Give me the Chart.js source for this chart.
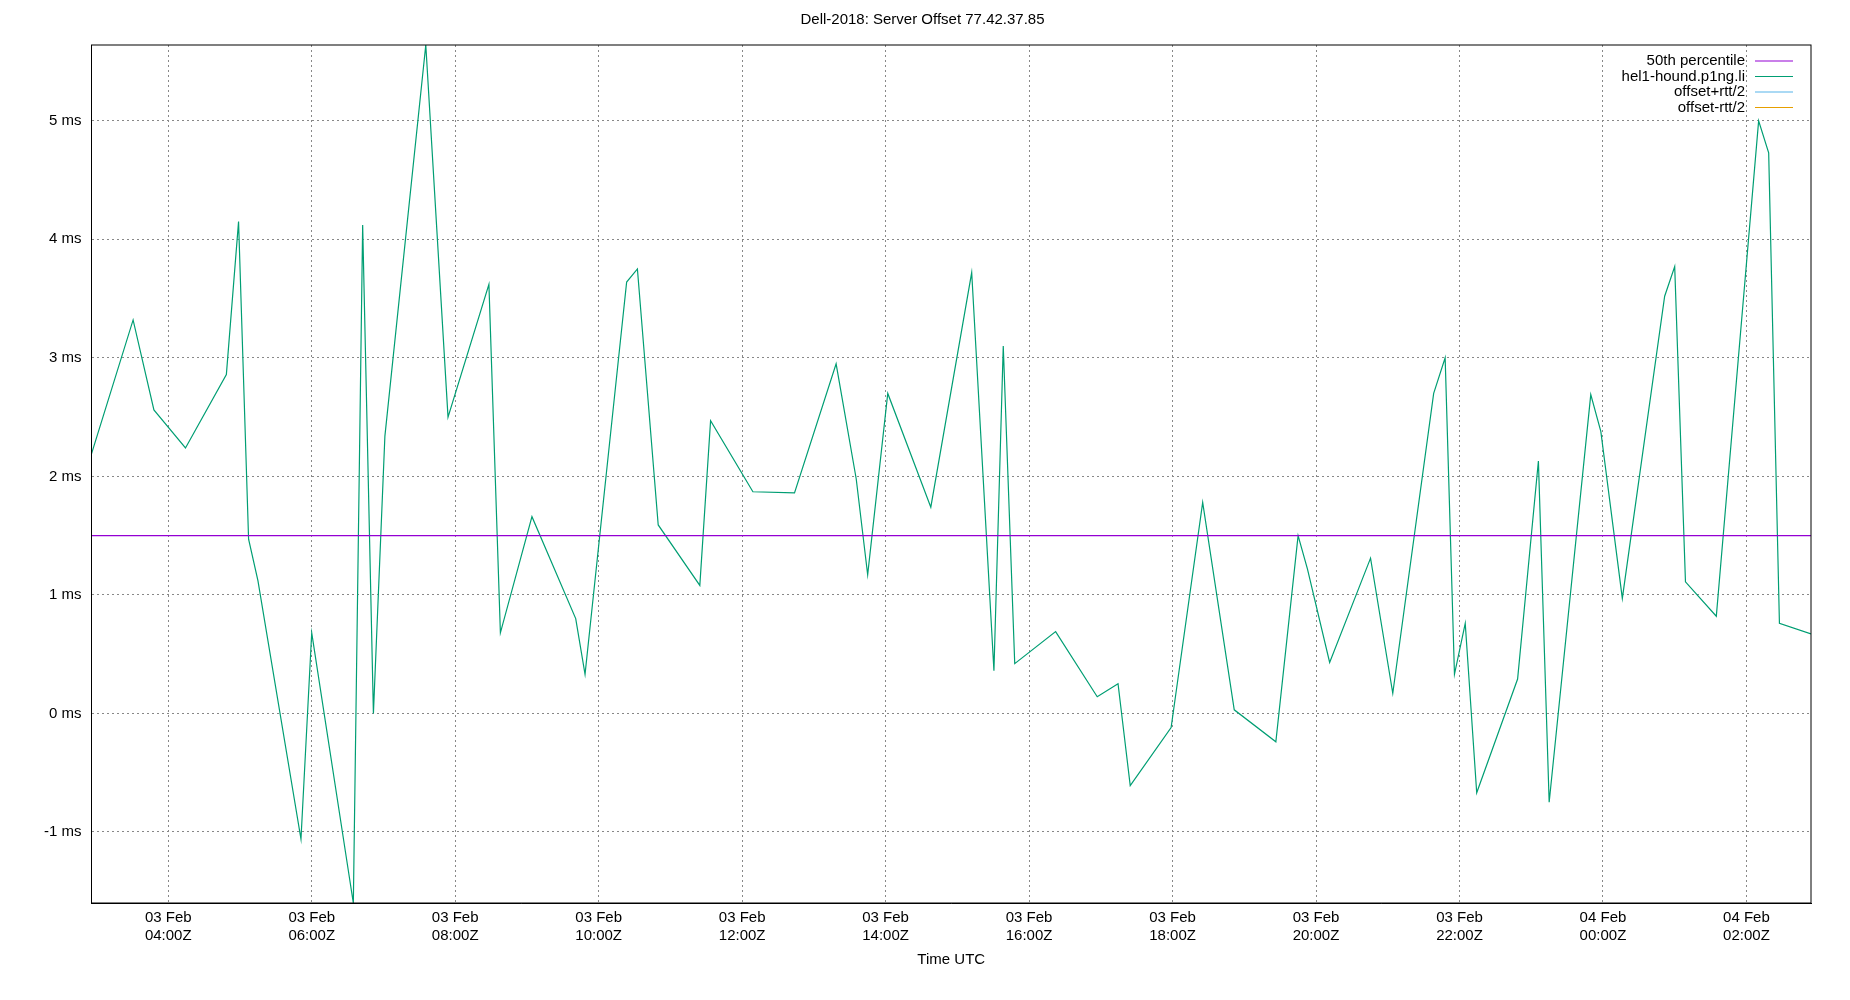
<!DOCTYPE html>
<html><head><meta charset="utf-8">
<script src="https://cdn.jsdelivr.net/npm/chart.js@4"></script>
<style>html,body{margin:0;background:#fff}#w{width:1850px;height:1000px}</style>
</head><body><div id="w"><canvas id="c"></canvas></div>
<script>
const hours=[2.93,3.51,3.80,4.24,4.81,4.98,5.12,5.25,5.85,6.0,6.58,6.71,6.86,7.02,7.59,7.90,8.47,8.63,9.07,9.68,9.81,10.39,10.54,10.83,11.41,11.56,12.15,12.73,13.31,13.59,13.75,14.03,14.63,15.20,15.51,15.64,15.80,16.37,16.95,17.24,17.41,17.98,18.42,18.86,19.44,19.75,19.88,20.19,20.76,21.07,21.64,21.80,21.93,22.08,22.24,22.81,23.10,23.25,23.83,23.97,24.27,24.86,25.00,25.15,25.58,26.17,26.31,26.46,26.90];
const offsets=[2.19,3.32,2.56,2.24,2.86,4.15,1.47,1.12,-1.06,0.68,-1.60,4.12,0,2.34,5.64,2.50,3.62,0.68,1.66,0.80,0.33,3.64,3.75,1.59,1.08,2.47,1.87,1.86,2.95,1.98,1.17,2.70,1.74,3.72,0.36,3.10,0.42,0.69,0.14,0.25,-0.61,-0.12,1.78,0.03,-0.24,1.50,1.22,0.43,1.31,0.17,2.70,3.00,0.33,0.76,-0.67,0.29,2.13,-0.75,2.69,2.38,0.97,3.52,3.77,1.11,0.82,5.00,4.73,0.76,0.67];
const p50=1.50;
const xTickHours=[4,6,8,10,12,14,16,18,20,22,24,26];
const xTickLabels=[["03 Feb","04:00Z"],["03 Feb","06:00Z"],["03 Feb","08:00Z"],["03 Feb","10:00Z"],["03 Feb","12:00Z"],["03 Feb","14:00Z"],["03 Feb","16:00Z"],["03 Feb","18:00Z"],["03 Feb","20:00Z"],["03 Feb","22:00Z"],["04 Feb","00:00Z"],["04 Feb","02:00Z"]];
const xMin=2.93,xMax=26.90,yMin=-1.6,yMax=5.64;
const font={family:'"Liberation Sans", Arial, sans-serif',size:15,weight:'normal'};
const legendPlugin={id:'lg',afterDraw(ch){const c=ch.ctx,a=ch.chartArea;c.save();c.font='15px "Liberation Sans", Arial, sans-serif';c.textAlign='right';c.textBaseline='middle';
ch.data.datasets.forEach((d,i)=>{const y=a.top+16+i*15.5;c.fillStyle='#000';c.fillText(d.label,a.right-66,y);c.strokeStyle=d.borderColor;c.lineWidth=1.2;c.beginPath();c.moveTo(a.right-64+8,y);c.lineTo(a.right-18,y);c.stroke();});c.restore();}};
const gridDash={color:'#888',drawTicks:false,tickLength:0};
new Chart(document.getElementById('c'),{type:'line',
data:{datasets:[
{label:'50th percentile',data:[{x:xMin,y:p50},{x:xMax,y:p50}],borderColor:'#9400d3',borderWidth:1.2,pointRadius:0},
{label:'hel1-hound.p1ng.li',data:hours.map((h,i)=>({x:h,y:offsets[i]})),borderColor:'#009e73',borderWidth:1.2,pointRadius:0,tension:0},
{label:'offset+rtt/2',data:[],borderColor:'#56b4e9',borderWidth:1.2,pointRadius:0},
{label:'offset-rtt/2',data:[],borderColor:'#e69f00',borderWidth:1.2,pointRadius:0}]},
options:{responsive:true,maintainAspectRatio:false,animation:false,
layout:{padding:{left:34,right:39,top:3,bottom:27}},
plugins:{legend:{display:false},tooltip:{enabled:false},
title:{display:true,text:'Dell-2018: Server Offset 77.42.37.85',color:'#000',font:font,padding:{top:8,bottom:16}}},
scales:{
x:{type:'linear',min:xMin,max:xMax,border:{color:'#000',width:1,dash:[2,3]},grid:gridDash,
afterBuildTicks(ax){ax.ticks=xTickHours.map(v=>({value:v}));},
ticks:{color:'#000',font:font,padding:6,maxRotation:0,callback:(v)=>{const i=xTickHours.indexOf(v);return i>=0?xTickLabels[i]:'';}},
title:{display:true,text:'Time UTC',color:'#000',font:font,padding:{top:0}}},
y:{min:yMin,max:yMax,border:{color:'#000',width:1,dash:[2,3]},grid:gridDash,
afterBuildTicks(ax){ax.ticks=[-1,0,1,2,3,4,5].map(v=>({value:v}));},
ticks:{color:'#000',font:font,padding:10,callback:v=>v+' ms'}}}},
plugins:[legendPlugin,{id:'box',afterDraw(ch){const c=ch.ctx,a=ch.chartArea;c.save();c.strokeStyle='#000';c.lineWidth=1;c.strokeRect(a.left,a.top,a.right-a.left,a.bottom-a.top);c.restore();}}]
});
</script></body></html>
